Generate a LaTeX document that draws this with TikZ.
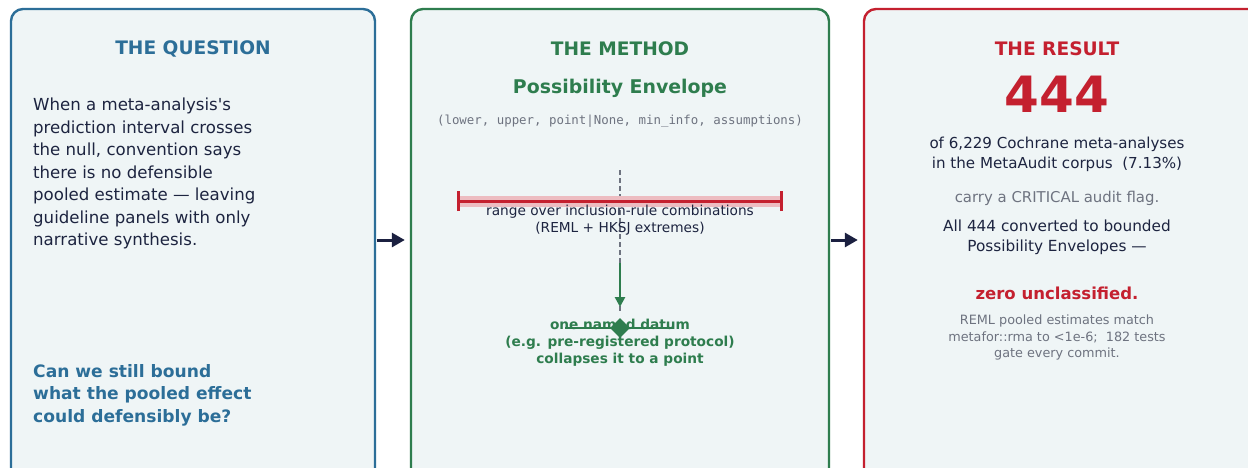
\documentclass[tikz,border=0pt]{standalone}
\usepackage{fontspec}
\setmainfont{DejaVu Sans}[Ligatures=TeXOff]
\setmonofont{DejaVu Sans Mono}
\usetikzlibrary{arrows.meta,shapes.geometric}
\definecolor{qblue}{HTML}{2C6E98}
\definecolor{mgreen}{HTML}{2E7D4E}
\definecolor{rred}{HTML}{C4202F}
\definecolor{boxfill}{HTML}{EFF5F6}
\definecolor{darktext}{HTML}{1D2440}
\definecolor{graytext}{HTML}{6E7380}
\definecolor{navy}{HTML}{1B2040}
\newcommand{\fs}[2]{\fontsize{#1}{#2}\selectfont}
\tikzset{
  panel/.style={draw=#1, line width=2.4pt, fill=boxfill, rounded corners=12pt, rectangle, inner sep=0pt},
  txt/.style={inner sep=0pt, align=center},
  arr/.style={navy, line width=3pt, -{Triangle[length=13pt,width=14pt]}},
}
\begin{document}
\begin{tikzpicture}[x=1pt,y=-1pt]
\useasboundingbox (0,0) rectangle (1248,467);
\fill[white] (0,0) rectangle (1248,467);
% panels
\node[panel=qblue, minimum width=364pt, minimum height=490pt] (q) at (193,254) {};
\node[panel=mgreen, minimum width=418pt, minimum height=490pt] (m) at (620,254) {};
\node[panel=rred, minimum width=398pt, minimum height=490pt] (r) at (1063,254) {};
% arrows
\coordinate (ar) at (0,240);
\draw[arr, shorten <=1pt, shorten >=5pt] (q.east |- ar) -- (m.west |- ar);
\draw[arr, shorten <=1pt, shorten >=5pt] (m.east |- ar) -- (r.west |- ar);
% question panel
\node[txt, qblue, font=\bfseries\fs{18.6}{21}] (qt) at (193,49) {THE QUESTION};
\node[txt, darktext, align=left, anchor=north west, font=\fs{16.6}{22.5}] (qb) at (33,98)
 {When a meta-analysis's\\prediction interval crosses\\the null, convention says\\there is no defensible\\pooled estimate — leaving\\guideline panels with only\\narrative synthesis.};
\node[txt, qblue, align=left, anchor=north west, font=\bfseries\fs{17.1}{22.5}] (qq) at (33,364)
 {Can we still bound\\what the pooled effect\\could defensibly be?};
% method panel
\node[txt, mgreen, font=\bfseries\fs{18.6}{21}] (mt) at (620,49) {THE METHOD};
\node[txt, mgreen, font=\bfseries\fs{18.9}{22}] (mp) at (620,88) {Possibility Envelope};
\node[txt, graytext, font=\ttfamily\fs{12.4}{14}] (mm) at (620,121) {(lower, upper, point|None, min\_info, assumptions)};
\coordinate (dtop) at (620,170);
\coordinate (dbot) at (620,311);
\draw[graytext, line width=1.2pt, dash pattern=on 5pt off 3pt] (dtop) -- (dbot);
\coordinate (bl) at (458,201);
\coordinate (br) at (781,201);
\draw[rred!30, line width=11pt] (bl) -- (br);
\draw[rred, line width=3pt] (bl) -- (br);
\draw[rred, line width=3pt] ([yshift=-10pt]bl) -- ([yshift=10pt]bl);
\draw[rred, line width=3pt] ([yshift=-10pt]br) -- ([yshift=10pt]br);
\node[txt, darktext, font=\fs{13.7}{16.5}, anchor=north] (mr) at (620,205)
 {range over inclusion-rule combinations\\(REML + HKSJ extremes)};
\coordinate (gs) at (620,263);
\coordinate (ge) at (620,307);
\draw[mgreen, line width=2.5pt, -{Triangle[length=10pt,width=10pt]}] (gs) -- (ge);
\node[txt, mgreen, font=\bfseries\fs{13.7}{17}, anchor=north] (md) at (620,319)
 {one named datum\\(e.g. pre-registered protocol)\\collapses it to a point};
\coordinate (pl) at (565,328);
\coordinate (pr) at (674,328);
\draw[mgreen, line width=2.5pt] (pl) -- (pr);
\node[diamond, fill=mgreen, inner sep=0pt, minimum width=20pt, minimum height=20pt] (dm) at (620,328) {};
% result panel
\node[txt, rred, font=\bfseries\fs{18.6}{21}] (rt) at (1057,49) {THE RESULT};
\node[txt, rred, font=\bfseries\fs{50}{52}] (rn) at (1057,94) {444};
\node[txt, darktext, font=\fs{15.1}{20}, anchor=north] (ro) at (1057,137)
 {of 6,229 Cochrane meta-analyses\\in the MetaAudit corpus\ \ (7.13\%)};
\node[txt, graytext, font=\fs{14.9}{18}] (rc) at (1057,198) {carry a CRITICAL audit flag.};
\node[txt, darktext, font=\fs{15.3}{20}, anchor=north] (ra) at (1057,220)
 {All 444 converted to bounded\\Possibility Envelopes —};
\node[txt, rred, font=\bfseries\fs{16.5}{18}] (rz) at (1057,293) {zero unclassified.};
\node[txt, graytext, font=\fs{12.8}{16.5}, anchor=north] (rs) at (1057,315)
 {REML pooled estimates match\\metafor::rma to <1e-6;\ \ 182 tests\\gate every commit.};
\end{tikzpicture}
\end{document}
